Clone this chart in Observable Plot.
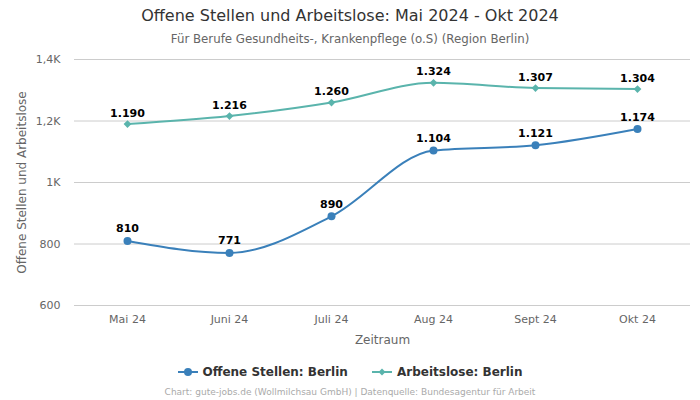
<!DOCTYPE html>
<html><head><meta charset="utf-8">
<script src="https://cdn.jsdelivr.net/npm/d3@7"></script>
<script src="https://cdn.jsdelivr.net/npm/@observablehq/plot@0.6"></script>
<style>
body{margin:0;width:700px;height:400px;background:#fff;font-family:"DejaVu Sans",sans-serif;position:relative;overflow:hidden}
#title{position:absolute;top:6px;left:0;width:700px;text-align:center;font-size:16px;color:#333}
#sub{position:absolute;top:32px;left:0;width:700px;text-align:center;font-size:11.8px;color:#666}
#chart{position:absolute;top:50px;left:0}
#legend{position:absolute;top:365px;left:0;width:700px;text-align:center;font-size:12px;font-weight:bold;color:#333}
#legend span{display:inline-flex;align-items:center;margin:0 10px}
#legend svg{margin-right:5px}
#cap{position:absolute;top:387px;left:0;width:700px;text-align:center;font-size:9px;color:#aaa}
</style></head><body>
<div id="title">Offene Stellen und Arbeitslose: Mai 2024 - Okt 2024</div>
<div id="sub">Für Berufe Gesundheits-, Krankenpflege (o.S) (Region Berlin)</div>
<div id="chart"></div>
<div id="legend">
<span><svg width="20" height="10"><line x1="0" y1="5" x2="20" y2="5" stroke="#3a80ba" stroke-width="2"/><circle cx="10" cy="5" r="4" fill="#3a80ba"/></svg>Offene Stellen: Berlin</span>
<span><svg width="20" height="10"><line x1="0" y1="5" x2="20" y2="5" stroke="#5ab4ac" stroke-width="2"/><path d="M10,1.5L13.5,5L10,8.5L6.5,5Z" fill="#5ab4ac"/></svg>Arbeitslose: Berlin</span>
</div>
<div id="cap">Chart: gute-jobs.de (Wollmilchsau GmbH) | Datenquelle: Bundesagentur für Arbeit</div>
<script>
const months = ["Mai 24","Juni 24","Juli 24","Aug 24","Sept 24","Okt 24"];
const offeneStellen = [810,771,890,1104,1121,1174];
const arbeitslose = [1190,1216,1260,1324,1307,1304];
const yTicks = [600,800,1000,1200,1400];

const blue = "#3a80ba", teal = "#5ab4ac";
const os = months.map((m,i)=>({m, v: offeneStellen[i]}));
const al = months.map((m,i)=>({m, v: arbeitslose[i]}));
const fmtNum = v => v >= 1000 ? Math.floor(v/1000) + "." + String(v%1000).padStart(3,"0") : String(v);
const fmtTick = v => v >= 1000 ? (v/1000).toString().replace(".", ",") + "K" : String(v);

const chart = Plot.plot({
  width: 700, height: 300,
  marginLeft: 74, marginRight: 10, marginTop: 9, marginBottom: 45,
  style: {fontFamily: "DejaVu Sans, sans-serif", fontSize: "11px", color: "#666", background: "transparent"},
  x: {type: "point", domain: months, padding: 0.5, label: null},
  y: {domain: [600, 1400], ticks: yTicks, label: null},
  marks: [
    Plot.gridY(yTicks, {stroke: "#ccc", strokeOpacity: 1}),
    Plot.axisY(yTicks, {tickFormat: fmtTick, tickSize: 0, tickPadding: 14, fontSize: 11, fill: "#666"}),
    Plot.axisX({tickSize: 0, tickPadding: 10, fontSize: 11, fill: "#666"}),
    Plot.text(["Zeitraum"], {frameAnchor: "bottom", dy: 38, fontSize: 12, fill: "#666"}),
    Plot.text(["Offene Stellen und Arbeitslose"], {frameAnchor: "left", textAnchor: "middle", dx: -52, rotate: -90, fontSize: 12, fill: "#666"}),
    Plot.line(al, {x: "m", y: "v", stroke: teal, strokeWidth: 2, curve: "monotone-x"}),
    Plot.dot(al, {x: "m", y: "v", fill: teal, symbol: "diamond2", r: 3.5}),
    Plot.line(os, {x: "m", y: "v", stroke: blue, strokeWidth: 2, curve: "monotone-x"}),
    Plot.dot(os, {x: "m", y: "v", fill: blue, r: 4}),
    Plot.text(al, {x: "m", y: "v", text: d => fmtNum(d.v), dy: -11, fontWeight: "bold", fontSize: 11, fill: "#000"}),
    Plot.text(os, {x: "m", y: "v", text: d => fmtNum(d.v), dy: -12, fontWeight: "bold", fontSize: 11, fill: "#000"})
  ]
});
document.getElementById("chart").appendChild(chart);
</script>
</body></html>
